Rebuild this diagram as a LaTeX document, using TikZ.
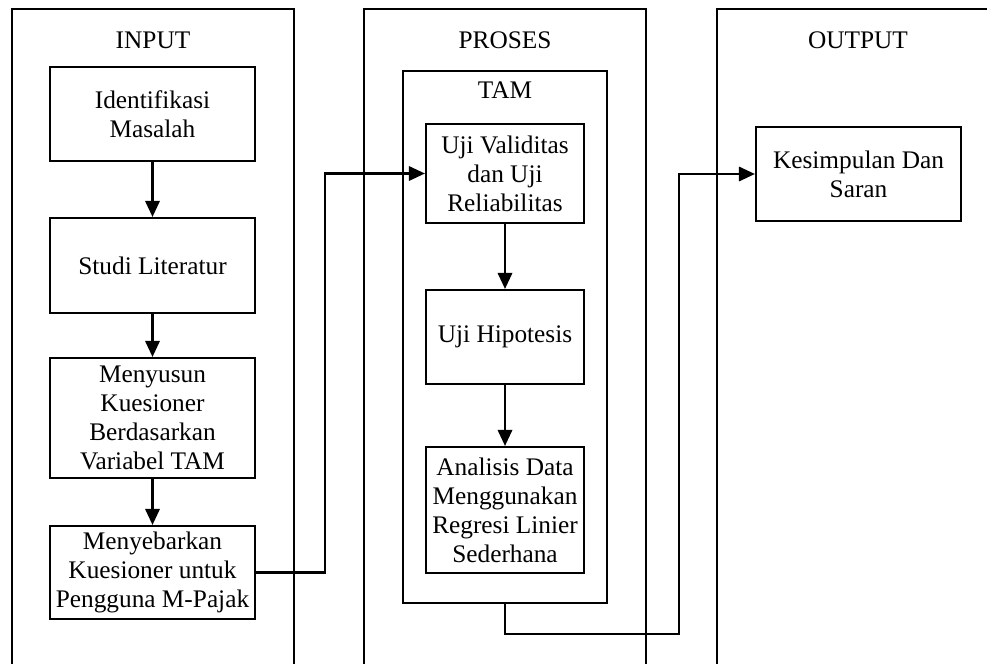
\documentclass[tikz,border=0pt]{standalone}
\usepackage{fontspec}
\setmainfont{Liberation Serif}
\usepackage{tikz}
\usetikzlibrary{arrows.meta, positioning}

\begin{document}
\begin{tikzpicture}[
    x=0.025cm, y=-0.025cm,
    lane/.style={draw, line width=1.5pt, minimum width=7.05cm, minimum height=17.5cm, anchor=north},
    title/.style={font=\fontsize{18}{20.7}\selectfont},
    block/.style={draw, line width=1.5pt, minimum width=5.125cm, align=center, inner sep=0pt, font=\fontsize{18}{20.7}\selectfont},
    arr/.style={-{Triangle[length=0.4cm, width=0.36cm]}, line width=1.5pt},
]
\useasboundingbox (0,0) rectangle (987,664);

\node[lane] (inputlane) at (153,8) {};
\node[lane] (proseslane) at (505,8) {};
\node[lane] (outputlane) at (858,8) {};
\node[title] (inputtitle) at (153,40) {INPUT};
\node[title] (prosestitle) at (505,40) {PROSES};
\node[title] (outputtitle) at (858,40) {OUTPUT};

\node[block, minimum width=5.1cm, minimum height=13.3cm] (tam) at (505,337) {};
\node[title] (tamtitle) at (505,90) {TAM};

\node[block, minimum height=2.35cm] (identifikasi) at (152.5,114) {Identifikasi\\Masalah};
\node[block, minimum height=2.375cm] (studi) at (152.5,265.5) {Studi Literatur};
\node[block, minimum height=3cm] (menyusun) at (152.5,418) {Menyusun\\Kuesioner\\Berdasarkan\\Variabel TAM};
\node[block, minimum height=2.325cm] (menyebarkan) at (152.5,572.5) {Menyebarkan\\Kuesioner untuk\\Pengguna M-Pajak};

\node[block, minimum width=3.95cm, minimum height=2.475cm] (validitas) at (505,173.5) {Uji Validitas\\dan Uji\\Reliabilitas};
\node[block, minimum width=3.95cm, minimum height=2.35cm] (hipotesis) at (505,337) {Uji Hipotesis};
\node[block, minimum width=3.95cm, minimum height=3.15cm] (analisis) at (505,510) {Analisis Data\\Menggunakan\\Regresi Linier\\Sederhana};

\node[block, minimum height=2.35cm] (kesimpulan) at (858.5,174) {Kesimpulan Dan\\Saran};

\draw[arr] (identifikasi) -- (studi);
\draw[arr] (studi) -- (menyusun);
\draw[arr] (menyusun) -- (menyebarkan);
\draw[arr] (validitas) -- (hipotesis);
\draw[arr] (hipotesis) -- (analisis);

\coordinate (jogin) at (325,572.5);
\draw[arr] (menyebarkan.east) -- (jogin) |- (validitas.west);
\coordinate (jogout) at (679,634);
\draw[arr] (tam.south) |- (jogout) |- (kesimpulan.west);

\end{tikzpicture}
\end{document}
